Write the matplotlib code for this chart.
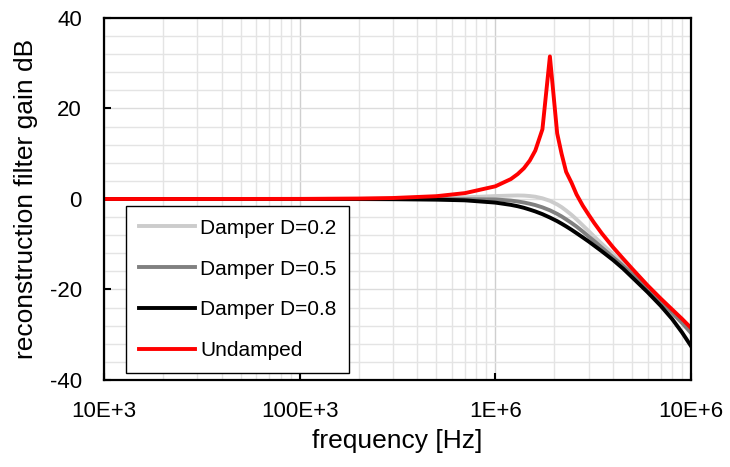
import matplotlib
matplotlib.use('Agg')
import matplotlib.pyplot as plt
from matplotlib.ticker import FixedLocator, NullFormatter

plt.rcParams['font.family'] = ['Liberation Sans', 'DejaVu Sans']
plt.rcParams['axes.unicode_minus'] = False

# frequency points [Hz]
freq = [1e4, 3e4, 1e5, 2e5, 3e5, 5e5, 7e5, 1.0e6, 1.2e6, 1.3e6, 1.4e6, 1.5e6,
        1.6e6, 1.74e6, 1.9e6, 2.07e6, 2.18e6, 2.3e6, 2.45e6, 2.6e6, 2.8e6,
        3.0e6, 3.2e6, 3.5e6, 4.0e6, 4.5e6, 5.0e6, 6.0e6, 7.0e6, 8.0e6, 9.0e6,
        1.0e7]

# gain [dB]
damper_02 = [0, 0, 0.0, 0.02, 0.05, 0.15, 0.35, 0.65, 0.75, 0.78, 0.75, 0.65,
             0.5, 0.15, -0.4, -1.2, -1.8, -2.55, -3.5, -4.5, -5.85,
             -7.1, -8.3, -9.9, -12.2, -14.2, -16.1, -19.4, -22.2, -24.7, -27.0,
             -29.2]
damper_05 = [0, 0, 0, 0, 0, -0.02, -0.05, -0.1, -0.35, -0.55, -0.78, -1.05,
             -1.35, -1.85, -2.5, -3.3, -3.85, -4.5, -5.3, -6.1, -7.2,
             -8.3, -9.3, -10.75, -12.9, -14.8, -16.6, -19.8, -22.6, -25.1, -27.4,
             -29.6]
damper_08 = [0, 0, 0, -0.02, -0.05, -0.15, -0.3, -0.8, -1.3, -1.6, -1.95, -2.35,
             -2.75, -3.35, -4.1, -4.9, -5.45, -6.05, -6.8, -7.55, -8.5,
             -9.4, -10.3, -11.55, -13.5, -15.4, -17.3, -20.6, -23.6, -26.5, -29.5,
             -32.5]
undamped = [0, 0, 0.02, 0.1, 0.22, 0.62, 1.3, 2.8, 4.4, 5.5, 6.8, 8.5,
            10.7, 15.4, 31.5, 14.5, 10.0, 6.0, 3.6, 1.0, -1.5,
            -3.5, -5.3, -7.6, -10.7, -13.2, -15.4, -19.1, -22.0, -24.4, -26.5,
            -28.5]

x_ticks = [1e4, 1e5, 1e6, 1e7]
x_tick_labels = ['10E+3', '100E+3', '1E+6', '10E+6']
y_ticks = [-40, -20, 0, 20, 40]

fig = plt.figure(figsize=(7.3, 4.67), dpi=100)
ax = fig.add_axes([0.1425, 0.1863, 0.8041, 0.7752])

ax.plot(freq, damper_02, color='#cccccc', lw=2.8, label='Damper D=0.2')
ax.plot(freq, damper_05, color='#808080', lw=2.8, label='Damper D=0.5')
ax.plot(freq, damper_08, color='#000000', lw=2.8, label='Damper D=0.8')
ax.plot(freq, undamped, color='#ff0000', lw=2.8, label='Undamped')

ax.set_xscale('log')
ax.set_xlim(1e4, 1e7)
ax.set_ylim(-40, 40)

ax.xaxis.set_major_locator(FixedLocator(x_ticks))
ax.set_xticklabels(x_tick_labels)
minor_x = [m * d for d in [1e4, 1e5, 1e6] for m in range(2, 10)]
ax.xaxis.set_minor_locator(FixedLocator(minor_x))
ax.xaxis.set_minor_formatter(NullFormatter())
ax.set_yticks(y_ticks)
ax.yaxis.set_minor_locator(FixedLocator(range(-36, 40, 4)))

ax.grid(which='minor', color='#e4e4e4', lw=1.0)
ax.grid(which='major', axis='y', color='#dcdcdc', lw=1.0)
ax.grid(which='major', axis='x', color='#cfcfcf', lw=1.0)
ax.set_axisbelow(True)

ax.tick_params(which='major', direction='in', length=5, width=1.5,
               labelsize=16, top=False, right=False)
ax.tick_params(axis='x', pad=15)
ax.tick_params(axis='y', pad=16)
ax.tick_params(which='minor', length=0)
for s in ax.spines.values():
    s.set_linewidth(1.6)

ax.set_xlabel('frequency [Hz]', fontsize=19)
ax.set_ylabel('reconstruction filter gain dB', fontsize=19)
ax.xaxis.set_label_coords(0.5, -0.135)
ax.yaxis.set_label_coords(-0.112, 0.5)

leg = ax.legend(loc='lower left', bbox_to_anchor=(0.038, 0.02), fontsize=15,
                frameon=True, fancybox=False, framealpha=1, edgecolor='#000000',
                handlelength=2.7, handletextpad=0.25, labelspacing=1.05,
                borderpad=0.6, borderaxespad=0)
leg.get_frame().set_linewidth(1.0)

fig.savefig('out.png', dpi=100)
